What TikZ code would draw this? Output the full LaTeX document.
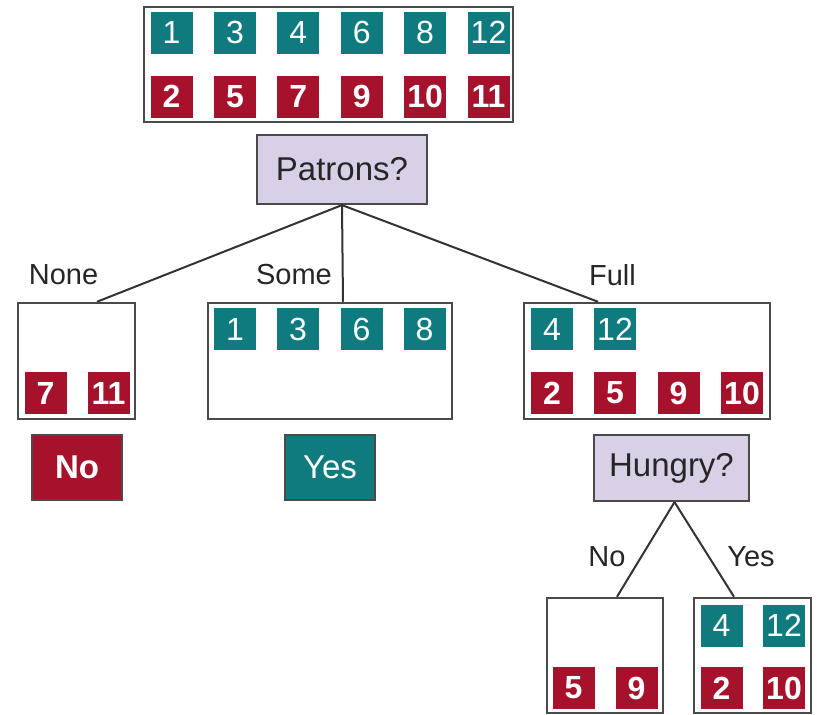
\documentclass[tikz,border=0pt]{standalone}
\usepackage{fontspec}
\setmainfont{Liberation Sans}
\definecolor{tealc}{HTML}{0F7B7F}
\definecolor{redc}{HTML}{A6112B}
\definecolor{lav}{HTML}{D8D0E6}
\definecolor{edgec}{HTML}{4A4A4A}
\begin{document}
\begin{tikzpicture}[x=1pt,y=-1pt,
  tsq/.style={fill=tealc,text=white,minimum width=42pt,minimum height=42pt,inner sep=0pt,font=\fontsize{32}{32}\selectfont},
  rsq/.style={fill=redc,text=white,minimum width=42pt,minimum height=42pt,inner sep=0pt,font=\fontsize{32}{32}\selectfont\bfseries},
  setbox/.style={draw=edgec,line width=2.5pt,fill=white,inner sep=0pt},
  question/.style={draw=edgec,line width=2.2pt,fill=lav,inner sep=0pt,font=\fontsize{33}{33}\selectfont,text=black!85},
  leaf/.style={draw=edgec,line width=1.5pt,inner sep=0pt,text=white,font=\fontsize{33}{33}\selectfont},
  lbl/.style={inner sep=0pt,font=\fontsize{29}{29}\selectfont,text=black!85},
  conn/.style={draw=black!80,line width=2pt}]
\useasboundingbox (0,0) rectangle (817,715);
% boxes
\node[setbox,minimum width=369pt,minimum height=115pt] (top) at (328.5,64.5) {};
\node[question,minimum width=170pt,minimum height=69pt] (patrons) at (342,169.5) {Patrons?};
\node[setbox,minimum width=117pt,minimum height=116pt] (nonebox) at (76.5,361) {};
\node[setbox,minimum width=244pt,minimum height=116pt] (somebox) at (330,361) {};
\node[setbox,minimum width=246pt,minimum height=116pt] (fullbox) at (647,361) {};
\node[leaf,fill=redc,minimum width=90pt,minimum height=65pt,font=\fontsize{33}{33}\selectfont\bfseries] (noleaf) at (77,467.5) {No};
\node[leaf,fill=tealc,minimum width=90pt,minimum height=65pt] (yesleaf) at (330,467.5) {Yes};
\node[question,minimum width=155pt,minimum height=66pt] (hungry) at (671.5,468) {Hungry?};
\node[setbox,minimum width=116pt,minimum height=115pt] (hnobox) at (605,655.5) {};
\node[setbox,minimum width=117pt,minimum height=115pt] (hyesbox) at (752.5,655.5) {};
% top squares
\node[tsq] (t1) at (171.5,32.5) {1};
\node[tsq] (t3) at (234.9,32.5) {3};
\node[tsq] (t4) at (298.3,32.5) {4};
\node[tsq] (t6) at (361.7,32.5) {6};
\node[tsq] (t8) at (425.1,32.5) {8};
\node[tsq] (t12) at (488.5,32.5) {12};
\node[rsq] (t2) at (171.5,96.5) {2};
\node[rsq] (t5) at (234.9,96.5) {5};
\node[rsq] (t7) at (298.3,96.5) {7};
\node[rsq] (t9) at (361.7,96.5) {9};
\node[rsq] (t10) at (425.1,96.5) {10};
\node[rsq] (t11) at (488.5,96.5) {11};
% none
\node[rsq] (n7) at (45.5,393) {7};
\node[rsq] (n11) at (108.5,393) {11};
% some
\node[tsq] (s1) at (235,329) {1};
\node[tsq] (s3) at (298,329) {3};
\node[tsq] (s6) at (361.5,329) {6};
\node[tsq] (s8) at (424.5,329) {8};
% full
\node[tsq] (f4) at (552,329) {4};
\node[tsq] (f12) at (615,329) {12};
\node[rsq] (f2) at (552,393) {2};
\node[rsq] (f5) at (615,393) {5};
\node[rsq] (f9) at (678.5,393) {9};
\node[rsq] (f10) at (742,393) {10};
% hungry no
\node[rsq] (h5) at (573.5,688) {5};
\node[rsq] (h9) at (636.5,688) {9};
% hungry yes
\node[tsq] (y4) at (721.5,625.5) {4};
\node[tsq] (y12) at (784,625.5) {12};
\node[rsq] (y2) at (721.5,688) {2};
\node[rsq] (y10) at (784,688) {10};
% connectors
\draw[conn] (patrons.south) -- ([xshift=20.5pt]nonebox.north);
\draw[conn] (patrons.south) -- ([xshift=13pt]somebox.north);
\draw[conn] (patrons.south) -- ([xshift=-49pt]fullbox.north);
\draw[conn] ([xshift=3pt]hungry.south) -- ([xshift=12pt]hnobox.north);
\draw[conn] ([xshift=3pt]hungry.south) -- ([xshift=-18.5pt]hyesbox.north);
% labels
\node[lbl] (lnone) at (63.5,275) {None};
\node[lbl] (lsome) at (294,275) {Some};
\node[lbl] (lfull) at (612.5,275) {Full};
\node[lbl] (lno) at (607,557) {No};
\node[lbl] (lyes) at (751,557) {Yes};
\end{tikzpicture}
\end{document}
